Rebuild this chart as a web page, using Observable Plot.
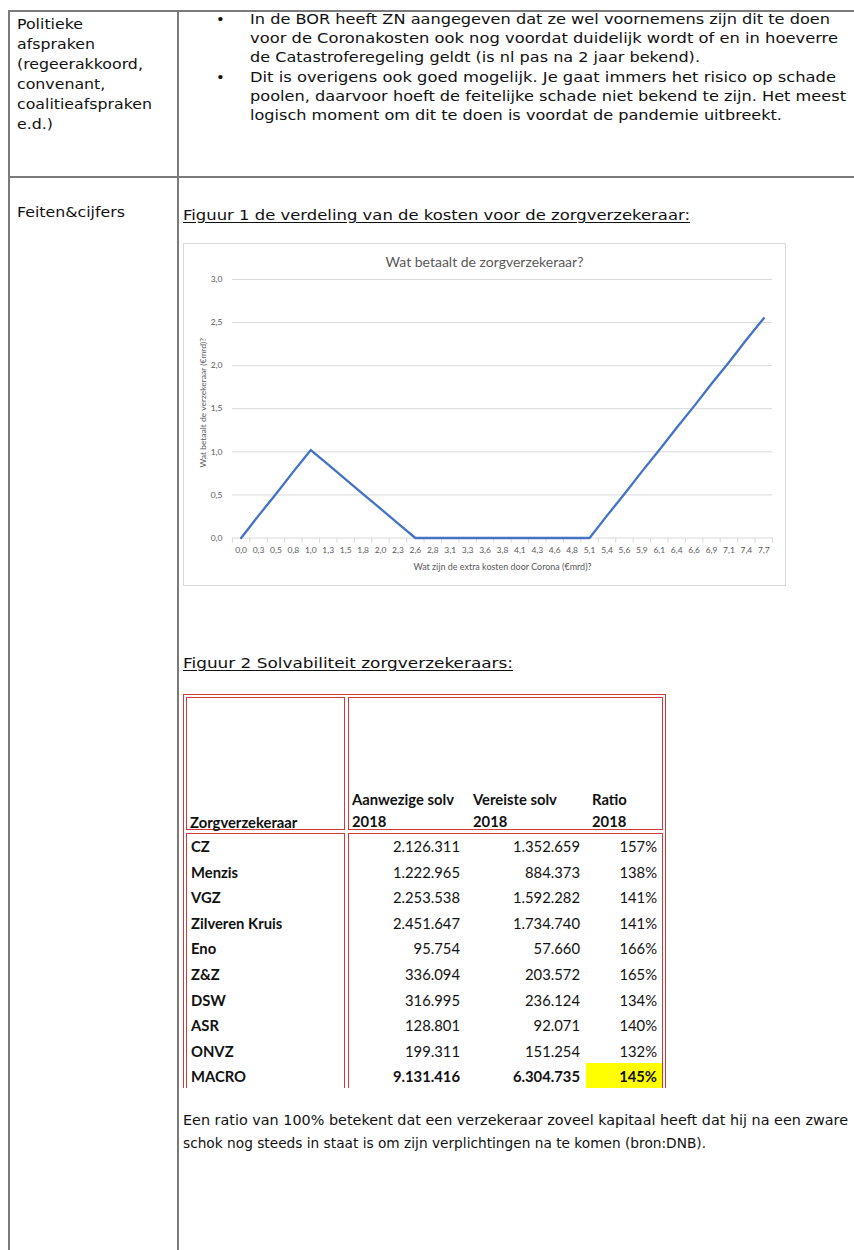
<!DOCTYPE html>
<html>
<head>
<meta charset="utf-8">
<script src="https://cdn.jsdelivr.net/npm/d3@7"></script>
<script src="https://cdn.jsdelivr.net/npm/@observablehq/plot@0.6"></script>
<style>
  html, body { margin: 0; padding: 0; background: #fff; }
  body { width: 854px; height: 1250px; position: relative; overflow: hidden; font-family: "DejaVu Sans", Verdana, sans-serif; color: #111; }
  .t { position: absolute; white-space: nowrap; line-height: 20px; transform-origin: 0 50%; }
  .doc { font-size: 14.8px; }
  .u { text-decoration: underline; text-underline-offset: 2px; }
  .hl { position: absolute; background: #7a7a7a; }
  .box { position: absolute; box-sizing: border-box; border: 1px solid #d23a3a; }
  .tb { position: absolute; white-space: nowrap; font-family: Lato, "Open Sans", sans-serif; font-size: 14.8px; line-height: 20px; color: #111; }
  .b { font-weight: bold; }
  #chartbox { position: absolute; left: 183px; top: 243px; width: 603px; height: 343px; box-sizing: border-box; border: 1px solid #d9d9d9; }
  #ctitle { position: absolute; left: 0; width: 100%; top: 9px; text-align: center; font-family: Lato, sans-serif; font-size: 14px; color: #595959; }
  #plot { position: absolute; left: -1px; top: -1px; }
</style>
</head>
<body>
<!-- document grid lines -->
<div class="hl" style="left:8px;top:10px;width:846px;height:1.5px;"></div>
<div class="hl" style="left:8px;top:10px;width:1.5px;height:1240px;"></div>
<div class="hl" style="left:177px;top:10px;width:1.5px;height:1240px;"></div>
<div class="hl" style="left:8px;top:176px;width:846px;height:2px;"></div>

<div id="doctext"></div>

<div id="chartbox">
  <div id="ctitle"></div>
  <div id="plot"></div>
</div>

<div id="table"></div>

<script>
// ---------- Data: Figuur 1 ----------
const costLabels = ["0,0","0,3","0,5","0,8","1,0","1,3","1,5","1,8","2,0","2,3","2,6","2,8","3,1","3,3","3,6","3,8","4,1","4,3","4,6","4,8","5,1","5,4","5,6","5,9","6,1","6,4","6,6","6,9","7,1","7,4","7,7"];
const insurerPays = [0, 0.26, 0.51, 0.77, 1.02, 0.85, 0.68, 0.51, 0.34, 0.17, 0, 0, 0, 0, 0, 0, 0, 0, 0, 0, 0, 0.26, 0.51, 0.77, 1.02, 1.28, 1.53, 1.79, 2.04, 2.3, 2.55];
const yTicks = [0, 0.5, 1, 1.5, 2, 2.5, 3];
const chartTitle = "Wat betaalt de zorgverzekeraar?";
const xTitle = "Wat zijn de extra kosten door Corona (€mrd)?";
const yTitle = "Wat betaalt de verzekeraar (€mrd)?";

// ---------- Data: Figuur 2 ----------
const insurers = ["CZ","Menzis","VGZ","Zilveren Kruis","Eno","Z&Z","DSW","ASR","ONVZ","MACRO"];
const presentSolv = ["2.126.311","1.222.965","2.253.538","2.451.647","95.754","336.094","316.995","128.801","199.311","9.131.416"];
const requiredSolv = ["1.352.659","884.373","1.592.282","1.734.740","57.660","203.572","236.124","92.071","151.254","6.304.735"];
const ratio = ["157%","138%","141%","141%","166%","165%","134%","140%","132%","145%"];
const headers = ["Zorgverzekeraar", "Aanwezige solv", "2018", "Vereiste solv", "2018", "Ratio", "2018"];

// ---------- Document text ----------
const leftCol1 = ["Politieke","afspraken","(regeerakkoord,","convenant,","coalitieafspraken","e.d.)"];
const bullets = [
  "In de BOR heeft ZN aangegeven dat ze wel voornemens zijn dit te doen",
  "voor de Coronakosten ook nog voordat duidelijk wordt of en in hoeverre",
  "de Catastroferegeling geldt (is nl pas na 2 jaar bekend).",
  "Dit is overigens ook goed mogelijk. Je gaat immers het risico op schade",
  "poolen, daarvoor hoeft de feitelijke schade niet bekend te zijn. Het meest",
  "logisch moment om dit te doen is voordat de pandemie uitbreekt."
];
const footer = [
  "Een ratio van 100% betekent dat een verzekeraar zoveel kapitaal heeft dat hij na een zware",
  "schok nog steeds in staat is om zijn verplichtingen na te komen (bron:DNB)."
];

document.getElementById("ctitle").textContent = chartTitle;

const doc = document.getElementById("doctext");
function addText(parent, txt, x, yc, opts = {}) {
  const d = document.createElement("div");
  d.className = opts.cls || "t doc";
  d.textContent = txt;
  d.style.left = x + "px";
  d.style.top = (yc - 10) + "px";
  if (opts.w) d.dataset.w = opts.w;
  if (opts.group) d.dataset.group = opts.group;
  if (opts.size) d.style.fontSize = opts.size + "px";
  parent.appendChild(d);
  return d;
}

const leftY = [24, 44, 64, 84, 104, 124];
leftCol1.forEach((s, i) => addText(doc, s, 17, leftY[i], s === "coalitieafspraken" ? {w: 135, group: "left"} : {group: "left"}));

const bulletEnds = [830, 838, 700, 836, 846, 782];
const bulletY = [19, 38, 57, 77, 96, 115];
bullets.forEach((s, i) => addText(doc, s, 250, bulletY[i], {w: bulletEnds[i] - 250}));
[0, 3].forEach(i => addText(doc, "•", 216, bulletY[i]));

addText(doc, "Feiten&cijfers", 17, 212, {group: "left"});
addText(doc, "Figuur 1 de verdeling van de kosten voor de zorgverzekeraar:", 183, 215, {w: 507, cls: "t doc u"});
addText(doc, "Figuur 2 Solvabiliteit zorgverzekeraars:", 183, 663, {w: 330, cls: "t doc u"});
addText(doc, footer[0], 183, 1120, {w: 665, size: 14.2});
addText(doc, footer[1], 183, 1143, {w: 523, size: 14.2});

// ---------- Chart ----------
const data = costLabels.map((c, i) => ({i, c, v: insurerPays[i]}));
const idx = d3.range(costLabels.length);
const bounds = d3.range(costLabels.length + 1).map(k => k - 0.5);
const fmt = d => d3.format(".1f")(d).replace(".", ",");

const chart = Plot.plot({
  width: 603,
  height: 343,
  marginLeft: 49,
  marginRight: 13,
  marginTop: 36,
  marginBottom: 48,
  style: {fontFamily: "Lato, sans-serif", fontSize: "8.5px", color: "#595959", background: "transparent", overflow: "visible"},
  x: {type: "linear", domain: [-0.5, costLabels.length - 0.5], axis: null},
  y: {domain: [0, 3], axis: null},
  marks: [
    Plot.gridY(yTicks, {stroke: "#d9d9d9", strokeOpacity: 1}),
    Plot.ruleX(bounds, {y1: 0, y2: -0.06, stroke: "#d9d9d9"}),
    Plot.axisY({ticks: yTicks, tickFormat: fmt, tickSize: 0, tickPadding: 10, fontSize: 8.5, fill: "#595959", label: null}),
    Plot.axisX({ticks: idx, tickFormat: i => costLabels[i], tickSize: 0, tickPadding: 9, fontSize: 8.5, fill: "#595959", label: null}),
    Plot.line(data, {x: "i", y: "v", stroke: "#4472c4", strokeWidth: 2.3}),
    Plot.text([xTitle], {frameAnchor: "bottom", dy: 32, fontSize: 9, fill: "#595959"}),
    Plot.text([yTitle], {frameAnchor: "left", dx: -29, dy: -6, rotate: -90, textAnchor: "middle", fontSize: 8.5, fill: "#595959"})
  ]
});
document.getElementById("plot").appendChild(chart);

// ---------- Table ----------
const tbl = document.getElementById("table");
function box(x1, y1, x2, y2, noBottom) {
  const d = document.createElement("div");
  d.className = "box";
  d.style.left = x1 + "px"; d.style.top = y1 + "px";
  d.style.width = (x2 - x1) + "px"; d.style.height = (y2 - y1) + "px";
  if (noBottom) d.style.borderBottom = "none";
  tbl.appendChild(d);
}
const yl = document.createElement("div");
yl.style.cssText = "position:absolute;left:586px;top:1063px;width:76px;height:25px;background:#ffff00;";
tbl.appendChild(yl);

box(183, 694, 666, 1088, true);
box(186, 697, 345, 830);
box(348, 697, 663, 830);
box(186, 833, 345, 1088, true);
box(348, 833, 663, 1088, true);

function tcell(txt, x, yc, bold, right) {
  const d = document.createElement("div");
  d.className = "tb" + (bold ? " b" : "");
  d.textContent = txt;
  d.style.top = (yc - 10) + "px";
  if (right) d.style.right = (854 - x) + "px"; else d.style.left = x + "px";
  tbl.appendChild(d);
}
tcell(headers[0], 190, 822, true);
tcell(headers[1], 352, 799, true);
tcell(headers[2], 352, 821, true);
tcell(headers[3], 473, 799, true);
tcell(headers[4], 473, 821, true);
tcell(headers[5], 592, 799, true);
tcell(headers[6], 592, 821, true);

insurers.forEach((n, i) => {
  const yc = 846 + i * 25.6;
  const bold = n === "MACRO";
  tcell(n, 191, yc, true);
  tcell(presentSolv[i], 460, yc, bold, true);
  tcell(requiredSolv[i], 580, yc, bold, true);
  tcell(ratio[i], 657, yc, bold, true);
});

// fit document text widths: horizontal scaling, like the stretched scan
const groupScale = {};
document.querySelectorAll("[data-w]").forEach(el => {
  const target = +el.dataset.w;
  const nat = el.getBoundingClientRect().width;
  if (nat > 0) {
    const s = target / nat;
    el.style.transform = "scaleX(" + s + ")";
    if (el.dataset.group) groupScale[el.dataset.group] = s;
  }
});
document.querySelectorAll("[data-group]").forEach(el => {
  const s = groupScale[el.dataset.group];
  if (s) el.style.transform = "scaleX(" + s + ")";
});
</script>
</body>
</html>
